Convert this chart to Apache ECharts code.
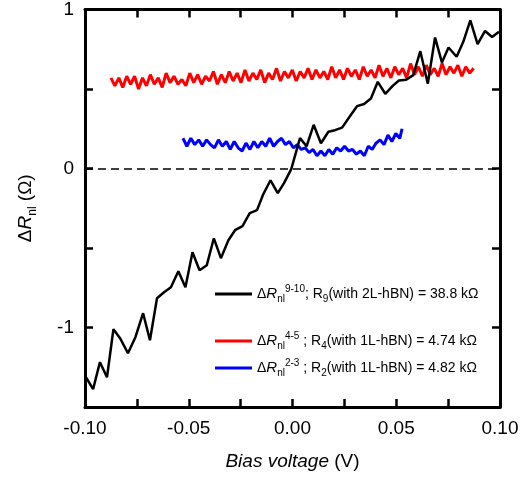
<!DOCTYPE html>
<html>
<head>
<meta charset="utf-8">
<script src="https://cdn.jsdelivr.net/npm/echarts@6/dist/echarts.min.js"></script>
<style>html,body{margin:0;padding:0;background:#fff;}#c{width:522px;height:480px;}</style>
</head>
<body>
<div id="c"></div>
<script>
// Black: ΔR_nl^{9-10} (Bias voltage V, ΔR Ω)
const blackV = [-0.0995,-0.0961,-0.0928,-0.0894,-0.0863,-0.0831,-0.0793,-0.0757,-0.0720,-0.0687,-0.0653,-0.0619,-0.0586,-0.0550,-0.0516,-0.0482,-0.0448,-0.0413,-0.0379,-0.0345,-0.0309,-0.0277,-0.0241,-0.0206,-0.0171,-0.0141,-0.0106,-0.0071,-0.0041,-0.0006,0.0036,0.0068,0.0102,0.0137,0.0173,0.0205,0.0239,0.0275,0.0311,0.0345,0.0378,0.0411,0.0447,0.0484,0.0513,0.0548,0.0582,0.0616,0.0652,0.0687,0.0720,0.0752,0.0791,0.0823,0.0857,0.0892,0.0928,0.0962,0.0995];
const blackR = [-1.313,-1.388,-1.218,-1.313,-1.011,-1.067,-1.162,-1.061,-0.910,-1.080,-0.816,-0.778,-0.747,-0.646,-0.747,-0.527,-0.640,-0.608,-0.439,-0.564,-0.451,-0.388,-0.363,-0.281,-0.262,-0.162,-0.074,-0.155,-0.092,-0.004,0.191,0.140,0.275,0.159,0.231,0.241,0.257,0.325,0.392,0.406,0.440,0.545,0.470,0.521,0.553,0.558,0.587,0.738,0.533,0.824,0.667,0.761,0.703,0.797,0.931,0.782,0.865,0.827,0.860];

// Red: ΔR_nl^{4-5}
const redV = [-0.0875,-0.0856,-0.0837,-0.0818,-0.0799,-0.0780,-0.0761,-0.0742,-0.0723,-0.0704,-0.0685,-0.0666,-0.0647,-0.0628,-0.0609,-0.0590,-0.0571,-0.0552,-0.0533,-0.0514,-0.0495,-0.0476,-0.0457,-0.0438,-0.0419,-0.0400,-0.0381,-0.0362,-0.0343,-0.0324,-0.0305,-0.0286,-0.0267,-0.0248,-0.0229,-0.0210,-0.0191,-0.0172,-0.0153,-0.0134,-0.0115,-0.0096,-0.0077,-0.0058,-0.0039,-0.0020,-0.0001,0.0018,0.0037,0.0056,0.0075,0.0094,0.0113,0.0132,0.0151,0.0170,0.0189,0.0208,0.0227,0.0246,0.0265,0.0284,0.0303,0.0322,0.0341,0.0360,0.0379,0.0398,0.0417,0.0436,0.0455,0.0474,0.0493,0.0512,0.0531,0.0550,0.0569,0.0588,0.0607,0.0626,0.0645,0.0664,0.0683,0.0702,0.0721,0.0740,0.0759,0.0778,0.0797,0.0816,0.0835,0.0854,0.0873];
const redR = [0.57,0.52,0.57,0.51,0.58,0.53,0.58,0.50,0.57,0.52,0.59,0.53,0.57,0.51,0.60,0.54,0.58,0.53,0.56,0.52,0.60,0.54,0.59,0.53,0.58,0.55,0.61,0.53,0.59,0.54,0.61,0.55,0.60,0.54,0.62,0.55,0.60,0.56,0.62,0.54,0.60,0.56,0.63,0.55,0.61,0.57,0.62,0.55,0.61,0.57,0.63,0.56,0.62,0.57,0.61,0.56,0.64,0.57,0.62,0.56,0.63,0.58,0.62,0.56,0.64,0.58,0.62,0.57,0.65,0.58,0.63,0.57,0.64,0.59,0.63,0.57,0.66,0.59,0.64,0.58,0.65,0.59,0.63,0.58,0.66,0.59,0.64,0.60,0.65,0.58,0.64,0.60,0.63];

// Blue: ΔR_nl^{2-3}
const blueV = [-0.0528,-0.0509,-0.0490,-0.0471,-0.0452,-0.0433,-0.0414,-0.0395,-0.0376,-0.0357,-0.0338,-0.0319,-0.0300,-0.0281,-0.0262,-0.0243,-0.0224,-0.0205,-0.0186,-0.0167,-0.0148,-0.0129,-0.0110,-0.0091,-0.0072,-0.0053,-0.0034,-0.0015,0.0004,0.0023,0.0042,0.0061,0.0080,0.0099,0.0118,0.0137,0.0156,0.0175,0.0194,0.0213,0.0232,0.0251,0.0270,0.0289,0.0308,0.0327,0.0346,0.0365,0.0384,0.0403,0.0422,0.0441,0.0460,0.0479,0.0498,0.0517,0.0528];
const blueR = [0.19,0.14,0.19,0.15,0.18,0.14,0.18,0.15,0.13,0.18,0.14,0.17,0.12,0.17,0.13,0.11,0.16,0.12,0.17,0.13,0.17,0.14,0.19,0.14,0.17,0.19,0.15,0.17,0.13,0.15,0.12,0.13,0.10,0.12,0.08,0.11,0.08,0.12,0.09,0.13,0.11,0.14,0.11,0.12,0.09,0.11,0.08,0.14,0.12,0.16,0.18,0.15,0.21,0.17,0.22,0.19,0.25];

const seriesNames = ['black', 'red', 'blue'];
const legendTexts = {
  black: '{d|Δ}{r|R}{sub|nl}{sup|9-10}{n|; R}{sub|9}{n|(with 2L-hBN) = 38.8 kΩ}',
  red: '{d|Δ}{r|R}{sub|nl}{sup|4-5}{n| ; R}{sub|4}{n|(with 1L-hBN) = 4.74 kΩ}',
  blue: '{d|Δ}{r|R}{sub|nl}{sup|2-3}{n| ; R}{sub|2}{n|(with 1L-hBN) = 4.82 kΩ}'
};
const xTicks = { min: -0.1, max: 0.1, interval: 0.025 };
const yTicks = { min: -1.5, max: 1, interval: 0.5 };

const FONT = 'Liberation Sans, Arial, sans-serif';
function pairs(xs, ys) { return xs.map((x, i) => [x, ys[i]]); }

const legendRich = {
  n: { fontSize: 14, fontFamily: FONT, color: '#000', lineHeight: 20 },
  d: { fontSize: 14, fontFamily: FONT, color: '#000', lineHeight: 20 },
  r: { fontSize: 15, fontFamily: FONT, fontStyle: 'italic', color: '#000', lineHeight: 20 },
  sup: { fontSize: 10, fontFamily: FONT, color: '#000', verticalAlign: 'top' },
  sub: { fontSize: 10, fontFamily: FONT, color: '#000', verticalAlign: 'bottom' }
};
function mkLegend(name, top, color) {
  return {
    data: [{ name: name, icon: 'rect', itemStyle: { color: color } }],
    left: 215, top: top, padding: 0, itemWidth: 37, itemHeight: 3,
    selectedMode: false,
    formatter: n => legendTexts[n],
    textStyle: { rich: legendRich, fontFamily: FONT, fontSize: 14, color: '#000' }
  };
}

const axLine = { show: true, onZero: false, lineStyle: { color: '#000', width: 3 } };
const axTick = { show: true, inside: true, length: 8, lineStyle: { color: '#000', width: 2.5 } };

const chart = echarts.init(document.getElementById('c'), null, { renderer: 'canvas' });
chart.setOption({
  animation: false,
  backgroundColor: '#fff',
  grid: { left: 85, right: 22, top: 9, bottom: 73, containLabel: false },
  legend: [mkLegend('black', 284, '#000'), mkLegend('red', 331, '#ff0000'), mkLegend('blue', 358, '#0000ff')],
  xAxis: [{
    type: 'value', position: 'bottom', min: xTicks.min, max: xTicks.max, interval: xTicks.interval,
    axisLine: axLine, axisTick: axTick, splitLine: { show: false },
    axisLabel: {
      margin: 12, fontSize: 19, fontFamily: FONT, color: '#000',
      formatter: v => (Math.abs(Math.round(v * 1000)) % 50 === 0) ? v.toFixed(2) : ''
    },
    name: '{i|Bias voltage} (V)', nameLocation: 'middle', nameGap: 45,
    nameTextStyle: { fontSize: 19, fontFamily: FONT, color: '#000',
      rich: { i: { fontSize: 19, fontFamily: FONT, fontStyle: 'italic', color: '#000' } } }
  }, {
    type: 'value', position: 'top', min: xTicks.min, max: xTicks.max, interval: xTicks.interval,
    axisLine: axLine, axisTick: axTick, splitLine: { show: false }, axisLabel: { show: false }
  }],
  yAxis: [{
    type: 'value', position: 'left', min: yTicks.min, max: yTicks.max, interval: yTicks.interval,
    axisLine: axLine, axisTick: axTick, splitLine: { show: false },
    axisLabel: {
      margin: 11, fontSize: 19, fontFamily: FONT, color: '#000',
      formatter: v => (Math.abs(v - Math.round(v)) < 1e-6) ? String(Math.round(v)) : ''
    },
    name: '{d|Δ}{r|R}{s|nl}{n| (Ω)}', nameLocation: 'middle', nameRotate: 90, nameGap: 46,
    nameTextStyle: { fontSize: 19, fontFamily: FONT, color: '#000',
      rich: {
        d: { fontSize: 19, fontFamily: FONT, color: '#000', lineHeight: 26 },
        n: { fontSize: 19, fontFamily: FONT, color: '#000', lineHeight: 26 },
        r: { fontSize: 19, fontFamily: FONT, fontStyle: 'italic', color: '#000', lineHeight: 26 },
        s: { fontSize: 12, fontFamily: FONT, color: '#000', verticalAlign: 'bottom' }
      } }
  }, {
    type: 'value', position: 'right', min: yTicks.min, max: yTicks.max, interval: yTicks.interval,
    axisLine: axLine, axisTick: axTick, splitLine: { show: false }, axisLabel: { show: false }
  }],
  series: [{
    name: seriesNames[1], type: 'line', data: pairs(redV, redR), showSymbol: false, symbol: 'none',
    lineStyle: { color: '#ff0000', width: 3 }, itemStyle: { color: '#ff0000' }
  }, {
    name: seriesNames[2], type: 'line', data: pairs(blueV, blueR), showSymbol: false, symbol: 'none',
    lineStyle: { color: '#0000ff', width: 3 }, itemStyle: { color: '#0000ff' }
  }, {
    name: seriesNames[0], type: 'line', data: pairs(blackV, blackR), showSymbol: false, symbol: 'none',
    lineStyle: { color: '#000', width: 2.5 }, itemStyle: { color: '#000' },
    markLine: {
      silent: true, symbol: ['none', 'none'], label: { show: false },
      lineStyle: { color: '#000', width: 1.5, type: [8, 5] },
      data: [{ yAxis: 0 }]
    }
  }]
});
</script>
</body>
</html>
